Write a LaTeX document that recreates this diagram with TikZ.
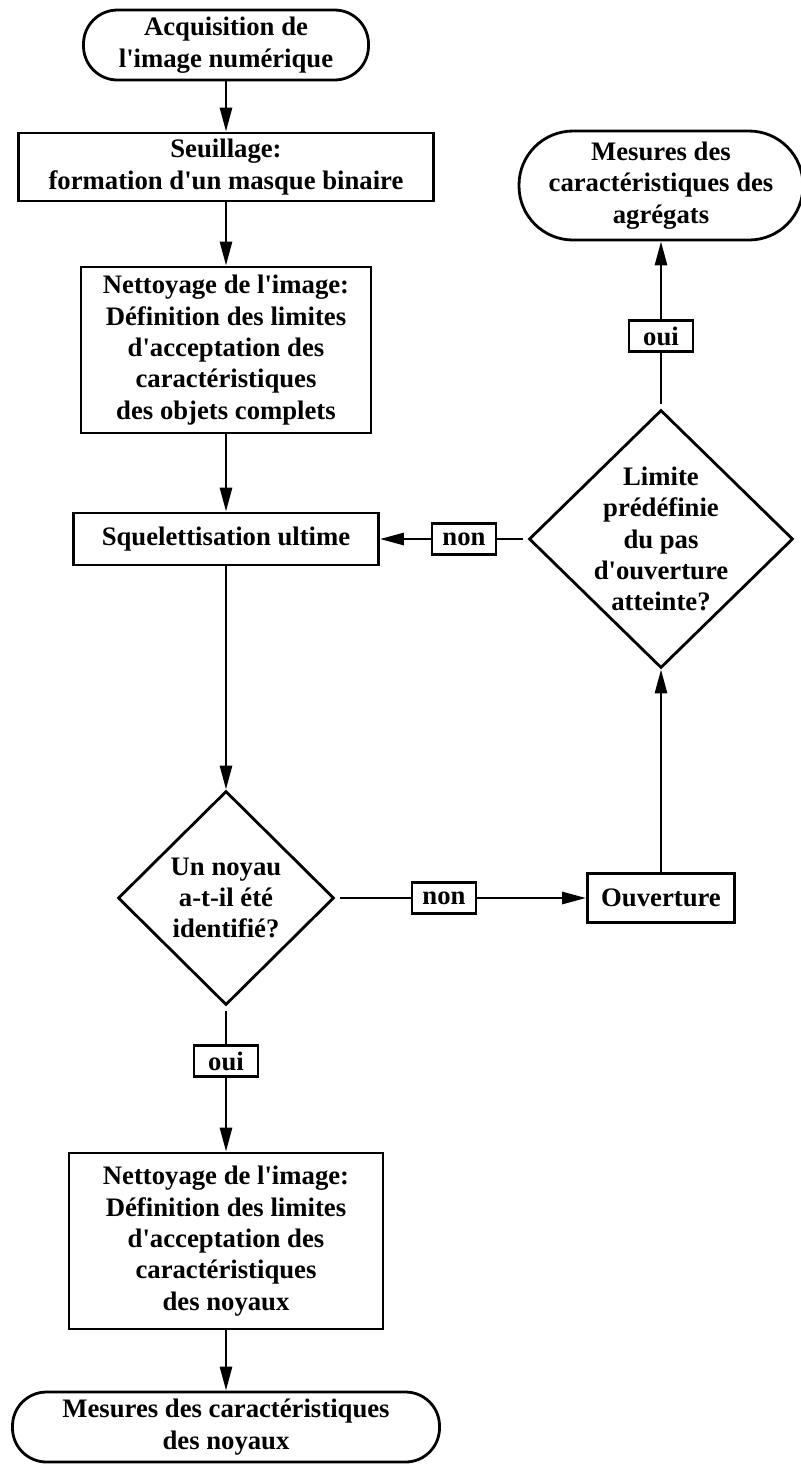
\documentclass[tikz,border=0pt]{standalone}
\usepackage{fontspec}
\setmainfont{Liberation Serif}[Ligatures=TeXOff]
\usetikzlibrary{arrows.meta,shapes.geometric}

\begin{document}
\begin{tikzpicture}[x=0.5pt,y=-0.5pt,
  every node/.style={font=\fontsize{13.35pt}{15.7pt}\selectfont\bfseries, align=center, line width=1.4pt},
  boite/.style={draw, rectangle, inner sep=1pt},
  terminal/.style={draw, rectangle, rounded corners=17pt, inner sep=1pt},
  decision/.style={draw, diamond, inner sep=0pt},
  etiq/.style={draw, rectangle, inner sep=0pt, minimum width=32pt, minimum height=15.5pt, line width=1.1pt},
  fleche/.style={line width=1.4pt, -{Triangle[length=12pt,width=6pt]}},
  trait/.style={line width=1.4pt, shorten <=2.5pt}]
\useasboundingbox (0,0) rectangle (801,1464);
\node[terminal, minimum width=142.5pt, minimum height=35pt] (acq) at (226,45) {Acquisition de\\l'image numérique};
\node[boite, minimum width=207.5pt, minimum height=34pt] (seuil) at (226,167) {Seuillage:\\formation d'un masque binaire};
\node[boite, minimum width=145pt, minimum height=83pt] (net1) at (226,350) {Nettoyage de l'image:\\Définition des limites\\d'acceptation des\\caractéristiques\\des objets complets};
\node[boite, minimum width=152.5pt, minimum height=26pt] (squel) at (226,539) {Squelettisation ultime};
\node[decision, minimum width=108pt, minimum height=107pt, label={[align=center]center:Un noyau\\a-t-il été\\identifié?}] (noyau) at (226,898) {};
\node[etiq] (oui2) at (226,1061) {oui};
\node[boite, minimum width=157pt, minimum height=88pt] (net2) at (226,1241) {Nettoyage de l'image:\\Définition des limites\\d'acceptation des\\caractéristiques\\des noyaux};
\node[terminal, minimum width=213.5pt, minimum height=35pt] (mesn) at (226,1427) {Mesures des caractéristiques\\des noyaux};
\node[etiq] (non2) at (444,898) {non};
\node[boite, minimum width=73.5pt, minimum height=24.5pt] (ouv) at (661,898) {Ouverture};
\node[decision, minimum width=132pt, minimum height=129pt, label={[align=center]center:Limite\\prédéfinie\\du pas\\d'ouverture\\atteinte?}] (lim) at (661,539) {};
\node[etiq] (non1) at (464,539) {non};
\node[etiq] (oui1) at (661,336) {oui};
\node[terminal, rounded corners=27pt, minimum width=142pt, minimum height=54.5pt] (mesa) at (661,185.5) {Mesures des\\caractéristiques des\\agrégats};
\draw[fleche] (acq) -- (seuil);
\draw[fleche] (seuil) -- (net1);
\draw[fleche] (net1) -- (squel);
\draw[fleche] (squel) -- (noyau);
\draw[trait] (noyau) -- (oui2);
\draw[fleche] (oui2) -- (net2);
\draw[fleche] (net2) -- (mesn);
\draw[trait] (noyau) -- (non2);
\draw[fleche] (non2) -- (ouv);
\draw[fleche] (ouv) -- (lim);
\draw[trait] (lim) -- (non1);
\draw[fleche] (non1) -- (squel);
\draw[trait] (lim) -- (oui1);
\draw[fleche] (oui1) -- (mesa);
\end{tikzpicture}
\end{document}
